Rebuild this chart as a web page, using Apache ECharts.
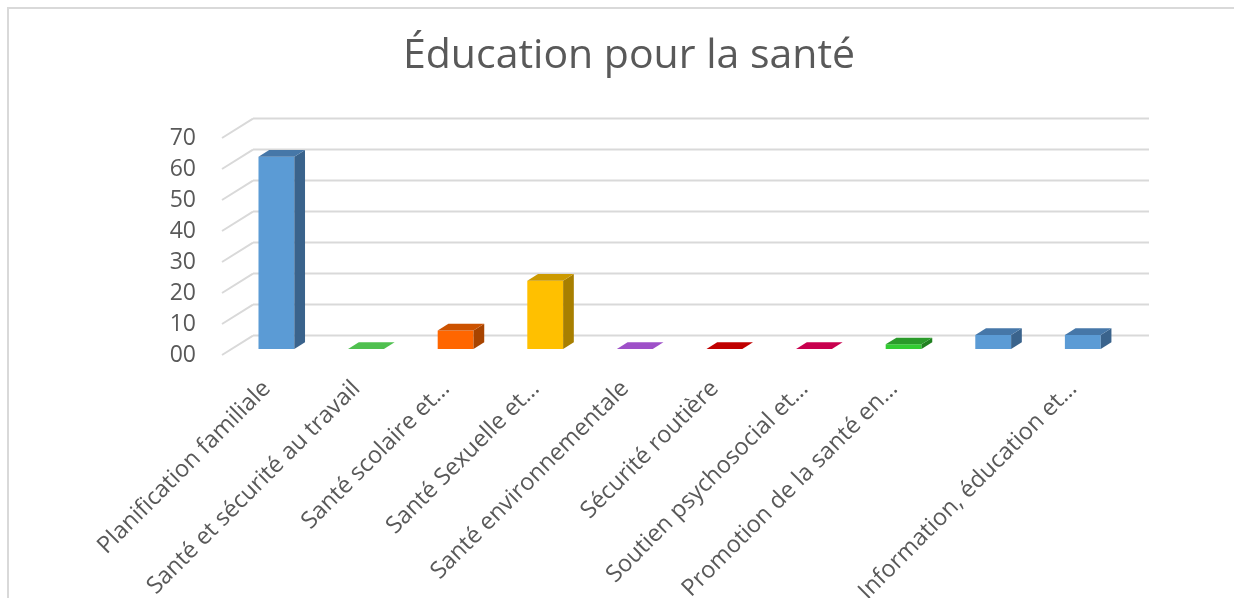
<!DOCTYPE html>
<html>
<head>
<meta charset="utf-8">
<script src="https://cdn.jsdelivr.net/npm/echarts@6/dist/echarts.min.js"></script>
<style>
html,body{margin:0;padding:0;background:#fff}
#chart{width:1234px;height:598px}
</style>
</head>
<body>
<div id="chart"></div>
<script>
var categories = [
    'Planification familiale',
    'Santé et sécurité au travail',
    'Santé scolaire et…',
    'Santé Sexuelle et…',
    'Santé environnementale',
    'Sécurité routière',
    'Soutien psychosocial et…',
    'Promotion de la santé en…',
    '',
    'Information, éducation et…'
];
var values = [62, 0, 6, 22, 0, 0, 0, 1.5, 4.5, 4.5];
var yTicks = [0, 10, 20, 30, 40, 50, 60, 70];
var yTickLabels = ['00', '10', '20', '30', '40', '50', '60', '70'];

// front / top / side colour of each bar
var barColors = [
    ['#5b9bd5', '#4677a8', '#3a638c'],
    ['#55c455', '#4fc04f', '#3c9a3c'],
    ['#ff6600', '#cc5200', '#a84400'],
    ['#ffc000', '#cc9a00', '#a87f00'],
    ['#a050c8', '#9e50c8', '#7a3c9c'],
    ['#c00000', '#c00000', '#900000'],
    ['#c8004e', '#c8004e', '#96003a'],
    ['#33cc33', '#2a9a2a', '#208020'],
    ['#5b9bd5', '#4677a8', '#3a638c'],
    ['#5b9bd5', '#4677a8', '#3a638c']
];

// oblique depth of the floor, and where the bars sit in it
var DX = 31, DY = -19.4;
var Z0 = 0.31, Z1 = 0.655;

var myChart = echarts.init(document.getElementById('chart'));

function renderGrid(params, api) {
    var p = api.coord([0, api.value(1)]);
    var bw = api.size([1, 0])[0];
    var left = p[0] - bw / 2;
    var right = left + categories.length * bw;
    var style = {stroke: '#d9d9d9', lineWidth: 2, fill: null};
    return {
        type: 'group',
        children: [
            {type: 'line', shape: {x1: left, y1: p[1], x2: left + DX, y2: p[1] + DY}, style: style},
            {type: 'line', shape: {x1: left + DX, y1: p[1] + DY, x2: right + DX, y2: p[1] + DY}, style: style}
        ]
    };
}

function renderBar(params, api) {
    var i = api.value(0);
    var base = api.coord([i, 0]);
    var top = api.coord([i, api.value(1)]);
    var w = api.size([1, 0])[0] * 0.4;
    var c = barColors[i];
    var x0 = base[0] - w / 2 + DX * Z0, x1 = x0 + w;
    var yb = base[1] + DY * Z0, yt = top[1] + DY * Z0;
    var bx = DX * (Z1 - Z0), by = DY * (Z1 - Z0);
    var children = [];
    if (yb - yt > 0.5) {
        children.push({type: 'rect', shape: {x: x0, y: yt, width: w, height: yb - yt}, style: {fill: c[0]}});
        children.push({type: 'polygon', shape: {points: [[x1, yt], [x1 + bx, yt + by], [x1 + bx, yb + by], [x1, yb]]}, style: {fill: c[2]}});
    }
    children.push({type: 'polygon', shape: {points: [[x0, yt], [x1, yt], [x1 + bx, yt + by], [x0 + bx, yt + by]]}, style: {fill: c[1]}});
    return {type: 'group', children: children};
}

var option = {
    animation: false,
    title: {
        text: 'Éducation pour la santé',
        left: 624,
        textAlign: 'center',
        top: 31,
        textStyle: {fontFamily: 'Open Sans', fontSize: 41, fontWeight: 'normal', color: '#595959'}
    },
    graphic: [{
        type: 'rect',
        shape: {x: 8, y: 8, width: 1240, height: 600},
        style: {fill: null, stroke: '#d9d9d9', lineWidth: 2}
    }],
    grid: {left: 222, right: 116, top: 138, bottom: 243, containLabel: false, outerBoundsMode: 'none'},
    xAxis: {
        type: 'category',
        data: categories,
        axisLine: {show: false},
        axisTick: {show: false},
        axisLabel: {
            interval: 0, rotate: 45, margin: 30,
            fontFamily: 'Open Sans', fontSize: 23.5, color: '#595959'
        }
    },
    yAxis: {
        type: 'value',
        min: 0, max: 70, interval: 10,
        splitLine: {show: false},
        axisLine: {show: false},
        axisTick: {show: false},
        axisLabel: {
            margin: 26,
            fontFamily: 'Open Sans', fontSize: 23, color: '#595959',
            formatter: function (v) { return yTickLabels[yTicks.indexOf(v)]; }
        }
    },
    series: [
        {
            type: 'custom',
            renderItem: renderGrid,
            data: yTicks.map(function (v) { return [0, v]; }),
            z: 1,
            silent: true
        },
        {
            type: 'custom',
            renderItem: renderBar,
            data: values.map(function (v, i) { return [i, v]; }),
            z: 2
        }
    ]
};

myChart.setOption(option);
</script>
</body>
</html>
